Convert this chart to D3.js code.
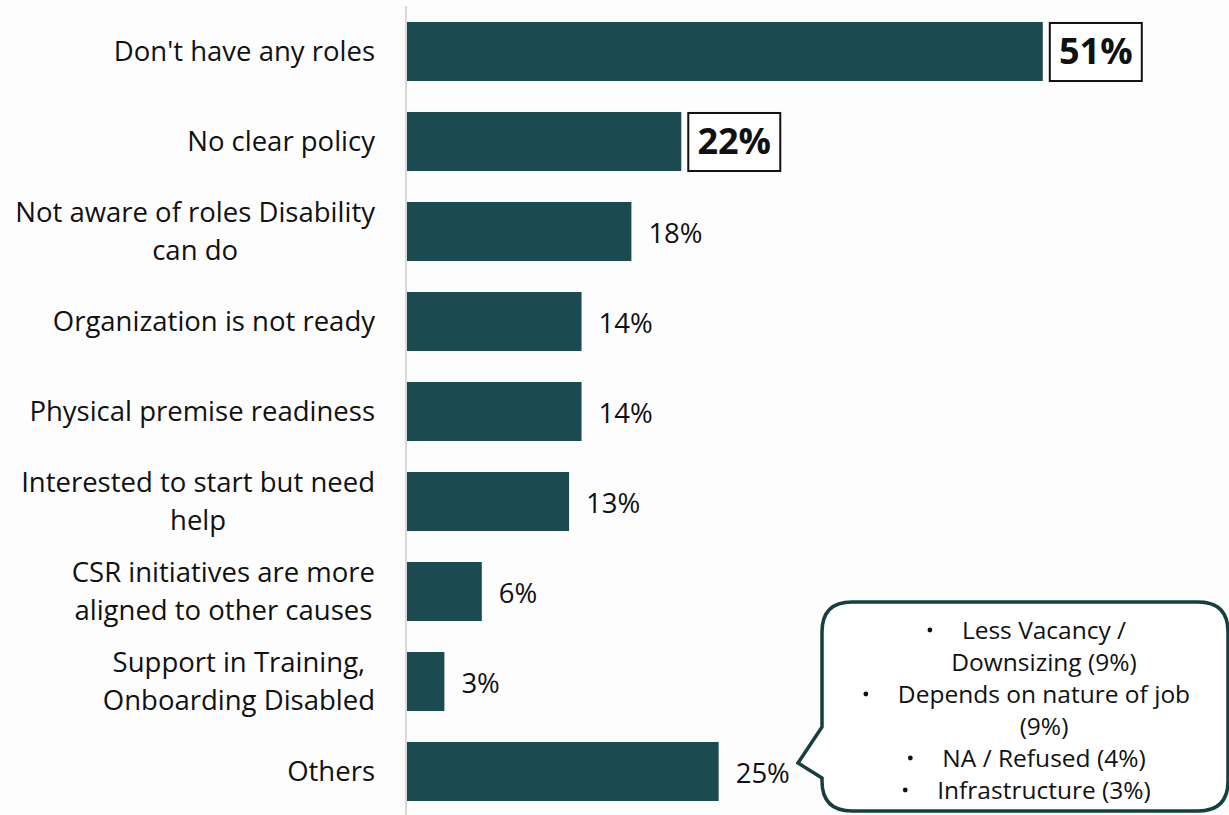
<!DOCTYPE html>
<meta charset="utf-8">
<style>
    body { margin: 0; background: #fdfdfd; }
    svg { display: block; background: #fdfdfd; font-family: "Open Sans", "Noto Sans", sans-serif; }
    .bar { fill: #1b4b50; }
    .cat { font-size: 27.5px; fill: #111; }
    .val { font-size: 27.5px; fill: #111; }
    .val.big { font-size: 36px; font-weight: bold; }
    .note { font-size: 24.5px; fill: #111; }
</style>
<body>
<script src="https://d3js.org/d3.v7.min.js"></script>
<script>
    var categories = [
        "Don't have any roles",
        "No clear policy",
        "Not aware of roles Disability\ncan do",
        "Organization is not ready",
        "Physical premise readiness",
        "Interested to start but need\nhelp",
        "CSR initiatives are more\naligned to other causes",
        "Support in Training,\nOnboarding Disabled",
        "Others"
    ];
    var values = [51, 22, 18, 14, 14, 13, 6, 3, 25];
    var boxed = [true, true, false, false, false, false, false, false, false];
    var othersNote = [
        ["Less Vacancy /", "Downsizing (9%)"],
        ["Depends on nature of job", "(9%)"],
        ["NA / Refused (4%)"],
        ["Infrastructure (3%)"]
    ];

    var width = 1229,
        height = 815;

    var svg = d3.select('body').append('svg')
        .attr('width', width)
        .attr('height', height);

    var x = d3.scaleLinear().domain([0, 60]).range([407, 1155]);
    var y = d3.scaleBand().domain(categories)
        .range([6.5, 816.5])
        .paddingInner(0.344)
        .paddingOuter(0.172);

    // axis line
    svg.append('line')
        .attr('x1', 406).attr('x2', 406)
        .attr('y1', 6).attr('y2', height)
        .attr('stroke', '#d9d9d9')
        .attr('stroke-width', 2);

    svg.selectAll('.bar')
        .data(categories)
        .enter().append('rect')
        .attr('class', 'bar')
        .attr('x', x(0))
        .attr('y', function (d) { return y(d); })
        .attr('width', function (d, i) { return x(values[i]) - x(0); })
        .attr('height', y.bandwidth());

    // category labels: block right-aligned at 375, lines centred inside block
    categories.forEach(function (d) {
        var lines = d.split('\n');
        var cy = y(d) + y.bandwidth() / 2;
        var g = svg.append('g');
        var texts = lines.map(function (l, k) {
            return g.append('text')
                .attr('class', 'cat')
                .attr('y', cy + (k - (lines.length - 1) / 2) * 38)
                .attr('dy', '0.35em')
                .attr('text-anchor', 'middle')
                .text(l);
        });
        var maxW = d3.max(texts, function (t) { return t.node().getComputedTextLength(); });
        texts.forEach(function (t) { t.attr('x', 375 - maxW / 2); });
    });

    // value labels
    categories.forEach(function (c, i) {
        var cy = y(c) + y.bandwidth() / 2;
        if (boxed[i]) {
            var bx = x(values[i]) + 7;
            svg.append('rect')
                .attr('x', bx).attr('y', y(c) + 1)
                .attr('width', 92).attr('height', y.bandwidth() - 1)
                .attr('fill', '#fff')
                .attr('stroke', '#111')
                .attr('stroke-width', 2);
            svg.append('text')
                .attr('class', 'val big')
                .attr('x', bx + 46).attr('y', cy)
                .attr('dy', '0.36em')
                .attr('text-anchor', 'middle')
                .text(values[i] + '%');
        } else {
            svg.append('text')
                .attr('class', 'val')
                .attr('x', x(values[i]) + 17).attr('y', cy)
                .attr('dy', '0.4em')
                .text(values[i] + '%');
        }
    });

    // callout for Others
    var L = 822, T = 602, R = 1228, B = 811, r = 30;
    var calloutPath = 'M' + (L + r) + ',' + T +
        ' H' + (R - r) + ' Q' + R + ',' + T + ' ' + R + ',' + (T + r) +
        ' V' + (B - r) + ' Q' + R + ',' + B + ' ' + (R - r) + ',' + B +
        ' H' + (L + r) + ' Q' + L + ',' + B + ' ' + L + ',' + (B - r) +
        ' V778 L798,763 L' + L + ',727' +
        ' V' + (T + r) + ' Q' + L + ',' + T + ' ' + (L + r) + ',' + T + ' Z';
    svg.append('path')
        .attr('d', calloutPath)
        .attr('fill', '#fff')
        .attr('stroke', '#163f40')
        .attr('stroke-width', 3.5);

    var lineY = 630, cx = 1044;
    othersNote.forEach(function (item) {
        item.forEach(function (l, k) {
            var t = svg.append('text')
                .attr('class', 'note')
                .attr('x', cx).attr('y', lineY)
                .attr('dy', '0.35em')
                .attr('text-anchor', 'middle')
                .text(l);
            if (k === 0) {
                var w = t.node().getComputedTextLength();
                svg.append('circle')
                    .attr('cx', cx - w / 2 - 32)
                    .attr('cy', lineY)
                    .attr('r', 2.4)
                    .attr('fill', '#111');
            }
            lineY += 32;
        });
    });
</script>
</body>
